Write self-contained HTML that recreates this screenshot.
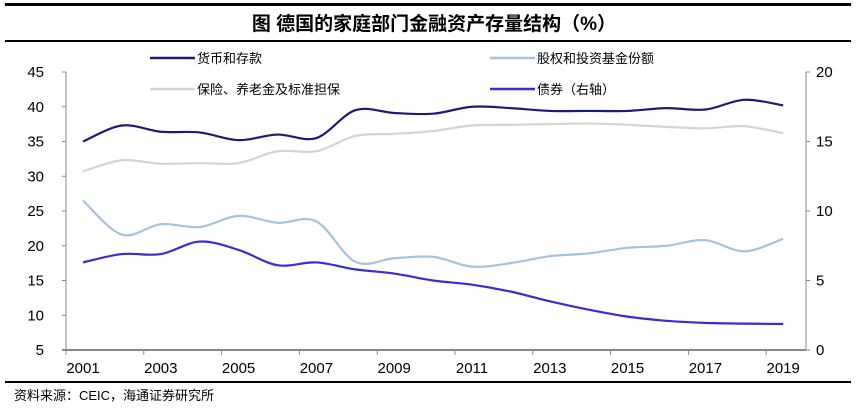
<!DOCTYPE html>
<html><head><meta charset="utf-8"><style>
body{margin:0;width:868px;height:415px;background:#fff;overflow:hidden}
svg text{font-family:"Liberation Sans","Noto Sans CJK SC",sans-serif}
</style></head><body>
<svg id="s" width="868" height="415" xmlns="http://www.w3.org/2000/svg">
<rect x="5" y="3" width="846" height="3" fill="#000"/>
<text x="434" y="30" text-anchor="middle" font-size="19" font-weight="bold" font-family="'Noto Serif CJK SC','Noto Sans CJK SC',serif">图  德国的家庭部门金融资产存量结构（%）</text>
<rect x="5" y="40" width="846" height="2" fill="#000"/>
<g font-size="13" font-family="'Noto Serif CJK SC',serif">
<line x1="150" y1="58" x2="195" y2="58" stroke="#1f1a7a" stroke-width="2.5"/><text x="197" y="63">货币和存款</text>
<line x1="490" y1="58" x2="535" y2="58" stroke="#a5c3e0" stroke-width="2.5"/><text x="537" y="63">股权和投资基金份额</text>
<line x1="150" y1="89" x2="195" y2="89" stroke="#d4d4d4" stroke-width="2.5"/><text x="197" y="94">保险、养老金及标准担保</text>
<line x1="490" y1="89" x2="535" y2="89" stroke="#3a2bd8" stroke-width="2.5"/><text x="537" y="94">债券（右轴）</text>
</g>
<g stroke="#888" stroke-width="1" fill="none">
<line x1="66" y1="72" x2="66" y2="350"/><line x1="806" y1="72" x2="806" y2="350"/>
</g>
<line x1="62" y1="350" x2="806" y2="350" stroke="#888" stroke-width="2"/>
<g id="ax" font-size="15"></g>
<g id="lines" fill="none" stroke-width="2.2"></g>
<rect x="5" y="381" width="846" height="2" fill="#000"/>
<text x="14" y="400" font-size="13">资料来源：CEIC，海通证券研究所</text>
</svg>
<script>
var NS="http://www.w3.org/2000/svg",ax=document.getElementById("ax"),L=document.getElementById("lines");
function el(t,a,p,txt){var e=document.createElementNS(NS,t);for(var k in a)e.setAttribute(k,a[k]);if(txt!==undefined)e.textContent=String(txt);p.appendChild(e);return e;}
function yl(v){return 72+(45-v)*6.95}function yr(v){return 350-v*13.9}function x(i){return 83+i*38.9}
for(var v=5;v<=45;v+=5){var y=yl(v);el("line",{x1:62,x2:66,y1:y,y2:y,stroke:"#888"},ax);el("text",{x:44,y:y+5,"text-anchor":"end"},ax,v);}
for(var v=0;v<=20;v+=5){var y=yr(v);el("line",{x1:806,x2:810,y1:y,y2:y,stroke:"#888"},ax);el("text",{x:816,y:y+5},ax,v);}
for(var i=0;i<=19;i+=2){var xt=66+i*38.9;el("line",{x1:xt,x2:xt,y1:350,y2:355,stroke:"#888"},ax);}
for(var i=0;i<19;i+=2)el("text",{x:x(i),y:373,"text-anchor":"middle"},ax,2001+i);
function path(d,f,c){var p=d.map(function(v,i){return [x(i),f(v)]});var s="M"+p[0];
for(var i=0;i<p.length-1;i++){var p0=p[i-1]||p[i],p1=p[i],p2=p[i+1],p3=p[i+2]||p2;
s+="C"+(p1[0]+(p2[0]-p0[0])/6)+","+(p1[1]+(p2[1]-p0[1])/6)+" "+(p2[0]-(p3[0]-p1[0])/6)+","+(p2[1]-(p3[1]-p1[1])/6)+" "+p2;}
el("path",{d:s,stroke:c},L);}
path([26.5,21.6,23.1,22.7,24.3,23.3,23.5,17.7,18.2,18.4,17,17.5,18.5,18.9,19.7,20,20.8,19.2,21],yl,"#a5c3e0");
path([30.7,32.3,31.8,31.9,31.9,33.6,33.6,35.8,36.1,36.5,37.3,37.4,37.5,37.6,37.4,37.1,36.9,37.2,36.2],yl,"#d4d4d4");
path([35,37.3,36.4,36.3,35.2,36,35.5,39.5,39.1,39,40,39.8,39.4,39.4,39.4,39.8,39.6,41,40.2],yl,"#1f1a7a");
path([6.3,6.9,6.9,7.8,7.2,6.1,6.3,5.8,5.5,5.0,4.7,4.2,3.5,2.9,2.4,2.1,1.95,1.9,1.87],yr,"#3a2bd8");
</script>
</body></html>
